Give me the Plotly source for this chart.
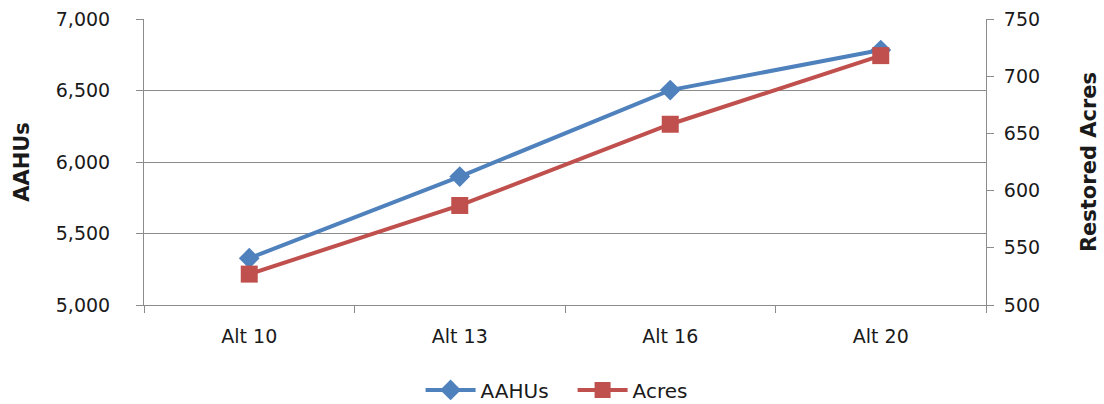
import plotly.graph_objects as go

# Alternatives compared
categories = ["Alt 10", "Alt 13", "Alt 16", "Alt 20"]
# Average annual habitat units (left axis)
aahus = [5327, 5898, 6503, 6783]
# Restored acres (right axis)
acres = [527, 587, 658, 718]

left_ticks = [5000, 5500, 6000, 6500, 7000]
right_ticks = [500, 550, 600, 650, 700, 750]

BLUE = "#4F81BD"
RED = "#C0504D"
GRID = "#8C8C8C"
FONT = "DejaVu Sans, sans-serif"

fig = go.Figure()
fig.add_trace(go.Scatter(
    x=categories, y=aahus, name="AAHUs", mode="lines+markers",
    line=dict(color=BLUE, width=4),
    marker=dict(symbol="diamond", size=16, color=BLUE),
    yaxis="y",
))
fig.add_trace(go.Scatter(
    x=categories, y=acres, name="Acres", mode="lines+markers",
    line=dict(color=RED, width=4),
    marker=dict(symbol="square", size=17, color=RED),
    yaxis="y2",
))

fig.update_layout(
    width=1104, height=404,
    margin=dict(l=144, r=118, t=19, b=99, autoexpand=False),
    paper_bgcolor="white", plot_bgcolor="white",
    font=dict(family=FONT, size=19, color="#1a1a1a"),
    showlegend=True,
    legend=dict(orientation="h", x=0.509, xanchor="center", xref="paper",
                y=-0.297, yanchor="middle", font=dict(size=20),
                entrywidth=87, entrywidthmode="pixels", itemwidth=50,
                bgcolor="rgba(0,0,0,0)"),
    xaxis=dict(
        type="category", range=[-0.5, 3.5], showgrid=False, showline=True,
        linecolor=GRID, linewidth=1, ticks="outside", tickson="boundaries",
        ticklen=7, tickcolor=GRID, tickfont=dict(size=19),
        ticklabelstandoff=14, automargin=False,
    ),
    yaxis=dict(
        range=[5000, 7000], tickvals=left_ticks, tickformat=",d",
        showgrid=True, gridcolor=GRID, gridwidth=1, showline=True,
        linecolor=GRID, ticks="outside", ticklen=7, tickcolor=GRID,
        tickfont=dict(size=19), zeroline=False, ticklabelstandoff=22,
        automargin=False,
        title=dict(text="<b>AAHUs</b>", font=dict(size=21), standoff=20),
    ),
    yaxis2=dict(
        range=[500, 750], tickvals=right_ticks, overlaying="y", side="right",
        showgrid=False, showline=True, linecolor=GRID, ticks="outside",
        ticklen=7, tickcolor=GRID, tickfont=dict(size=19), zeroline=False,
        ticklabelstandoff=6, automargin=False,
        title=dict(text="<b>Restored Acres</b>", font=dict(size=21), standoff=42),
    ),
)

fig.write_html("out.html")
